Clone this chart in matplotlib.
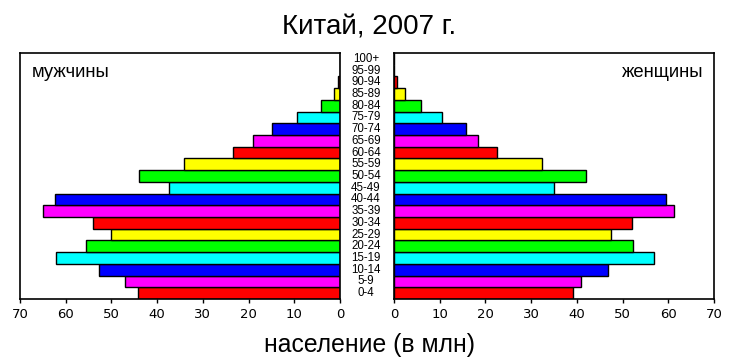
import matplotlib.pyplot as plt
import numpy as np

ages = ['0-4', '5-9', '10-14', '15-19', '20-24', '25-29', '30-34', '35-39',
        '40-44', '45-49', '50-54', '55-59', '60-64', '65-69', '70-74',
        '75-79', '80-84', '85-89', '90-94', '95-99', '100+']
male = [44.1, 47.0, 52.7, 62.2, 55.6, 50.2, 54.0, 64.9, 62.4, 37.3, 44.0,
        34.1, 23.5, 19.1, 14.8, 9.3, 4.2, 1.3, 0.4, 0.1, 0.0]
female = [39.1, 40.8, 46.9, 56.8, 52.3, 47.5, 52.0, 61.3, 59.4, 34.9, 42.0,
          32.3, 22.5, 18.3, 15.8, 10.6, 5.8, 2.5, 0.6, 0.1, 0.0]
palette = ['#ff0000', '#ff00ff', '#0000ff', '#00ffff', '#00ff00', '#ffff00']
xticks = [0, 10, 20, 30, 40, 50, 60, 70]

plt.rcParams['font.family'] = ['Liberation Sans', 'DejaVu Sans']

y = np.arange(len(ages))
colors = [palette[i % len(palette)] for i in range(len(ages))]

fig = plt.figure(figsize=(7.35, 3.6), dpi=100)
axl = fig.add_axes([20 / 735, 61 / 360, 320 / 735, 246 / 360])
axr = fig.add_axes([394 / 735, 61 / 360, 320 / 735, 246 / 360])

axl.barh(y, male, height=1.0, color=colors, edgecolor='black', linewidth=1)
axr.barh(y, female, height=1.0, color=colors, edgecolor='black', linewidth=1)

axl.set_xlim(70, 0)
axr.set_xlim(0, 70)
for ax in (axl, axr):
    ax.set_ylim(-0.5, len(ages) - 0.5)
    ax.set_yticks([])
    ax.set_xticks(xticks)
    ax.tick_params(axis='x', labelsize=9.5, length=3, width=1, direction='out')
    for lbl in ax.get_xticklabels():
        lbl.set_family('DejaVu Sans')
    for s in ax.spines.values():
        s.set_linewidth(1.2)

axl.text(0.0375, 0.919, 'мужчины', transform=axl.transAxes, fontsize=13.3,
         ha='left', va='center')
axr.text(0.966, 0.919, 'женщины', transform=axr.transAxes, fontsize=13.3,
         ha='right', va='center')

# age group labels between the two panels
for i, a in enumerate(ages):
    yy = 61 / 360 + (i + 0.5) / len(ages) * 246 / 360
    fig.text(366 / 735, yy, a, fontsize=8.3, ha='center', va='center',
             color='black')

fig.text(369 / 735, 1 - 28 / 360, 'Китай, 2007 г.', fontsize=20,
         ha='center', va='center')
fig.text(369 / 735, 1 - 345 / 360, 'население (в млн)', fontsize=17.8,
         ha='center', va='center')

fig.savefig('out.png', dpi=100)
